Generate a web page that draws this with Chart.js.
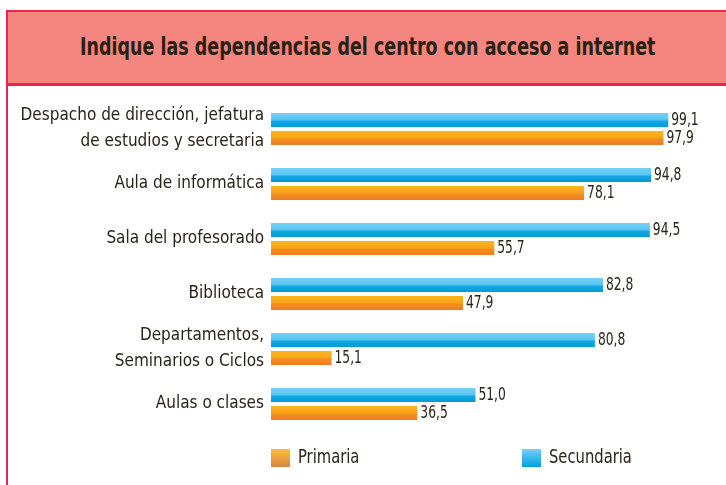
<!DOCTYPE html>
<html>
<head>
<meta charset="utf-8">
<script src="https://cdn.jsdelivr.net/npm/chart.js@4.4.0/dist/chart.umd.min.js"></script>
<style>
  html, body { margin: 0; padding: 0; background: #ffffff; width: 726px; height: 485px; overflow: hidden; }
  .frame { position: absolute; left: 6px; top: 10px; width: 740px; height: 500px; border-left: 2px solid #e8254f; border-top: 2px solid #e8254f; }
  .band { position: absolute; left: 8px; top: 12px; width: 740px; height: 71px; background: #f4857f; border-bottom: 3px solid #e8254f; }
  .title { position: absolute; left: 8px; top: 12px; width: 718px; height: 71px; line-height: 71px; text-align: center;
           font-family: "Liberation Sans Narrow", "DejaVu Sans Condensed", sans-serif; font-weight: bold; font-size: 24px; color: #2a2012;
           transform: scaleX(0.81); transform-origin: 363px 50%; white-space: nowrap; }
  canvas { position: absolute; left: 0; top: 0; }
  .leg { position: absolute; font-family: "Liberation Sans Narrow", "DejaVu Sans Condensed", sans-serif; font-size: 20px; color: #2b2419;
         transform: scaleX(0.82); transform-origin: 0 50%; white-space: nowrap; }
  .sw { position: absolute; width: 19px; height: 18px; }
</style>
</head>
<body>
<div class="frame"></div>
<div class="band"></div>
<div class="title">Indique las dependencias del centro con acceso a internet</div>
<canvas id="c" width="726" height="485"></canvas>
<div class="sw" style="left:271px;top:449px;background:linear-gradient(#fbbf3c,#d8843f);"></div>
<div class="leg" style="left:298px;top:444px;">Primaria</div>
<div class="sw" style="left:522px;top:449px;background:linear-gradient(#72d0f5,#00a0dc);"></div>
<div class="leg" style="left:549px;top:444px;">Secundaria</div>
<script>
const categories = [
  ["Despacho de dirección, jefatura", "de estudios y secretaria"],
  "Aula de informática",
  "Sala del profesorado",
  "Biblioteca",
  ["Departamentos,", "Seminarios o Ciclos"],
  "Aulas o clases"
];
const secundaria = [99.1, 94.8, 94.5, 82.8, 80.8, 51.0];
const primaria = [97.9, 78.1, 55.7, 47.9, 15.1, 36.5];

const FONT = '"Liberation Sans Narrow", "DejaVu Sans Condensed", sans-serif';

function barGradient(ctx, stops, fallback, offset) {
  const chart = ctx.chart;
  const y = chart.scales && chart.scales.y;
  if (!chart.chartArea || !y || ctx.dataIndex === undefined) return fallback;
  const c = y.getPixelForValue(ctx.dataIndex) + offset;
  const g = chart.ctx.createLinearGradient(0, c - 7, 0, c + 7);
  stops.forEach(s => g.addColorStop(s[0], s[1]));
  return g;
}

const valueLabels = {
  id: 'valueLabels',
  afterDatasetsDraw(chart) {
    const ctx = chart.ctx;
    chart.data.datasets.forEach((ds, i) => {
      chart.getDatasetMeta(i).data.forEach((el, j) => {
        ctx.save();
        ctx.font = '18px ' + FONT;
        ctx.fillStyle = '#2b2419';
        ctx.textAlign = 'left';
        ctx.textBaseline = 'middle';
        ctx.translate(el.x + 3, el.y);
        ctx.scale(0.76, 1);
        ctx.fillText(ds.data[j].toFixed(1).replace('.', ','), 0, 0);
        ctx.restore();
      });
    });
  }
};

new Chart(document.getElementById('c'), {
  type: 'bar',
  data: {
    labels: categories,
    datasets: [
      {
        label: 'Secundaria',
        data: secundaria,
        backgroundColor: (ctx) => barGradient(ctx, [[0, '#74d1f6'], [0.45, '#5cc7f1'], [0.6, '#12a7e1'], [1, '#009bd8']], '#2db4e8', -9),
        borderWidth: 0
      },
      {
        label: 'Primaria',
        data: primaria,
        backgroundColor: (ctx) => barGradient(ctx, [[0, '#fbb71a'], [0.45, '#f9a51c'], [0.6, '#f48d20'], [1, '#ef7c22']], '#f59a1f', 9),
        borderWidth: 0
      }
    ]
  },
  options: {
    indexAxis: 'y',
    responsive: false,
    animation: false,
    devicePixelRatio: 1,
    categoryPercentage: 0.655,
    barPercentage: 0.78,
    layout: { padding: { top: 101.5, bottom: 53.5, left: 0, right: 0 } },
    plugins: { legend: { display: false }, tooltip: { enabled: false } },
    scales: {
      x: { display: false, min: 0, max: 113.5 },
      y: {
        afterFit: (s) => { s.width = 271; },
        grid: { display: false, drawTicks: false },
        border: { display: false },
        ticks: { autoSkip: false, padding: 7, color: '#2b2419', font: { family: FONT, size: 17, lineHeight: 1.53 } }
      }
    }
  },
  plugins: [valueLabels]
});
</script>
</body>
</html>
